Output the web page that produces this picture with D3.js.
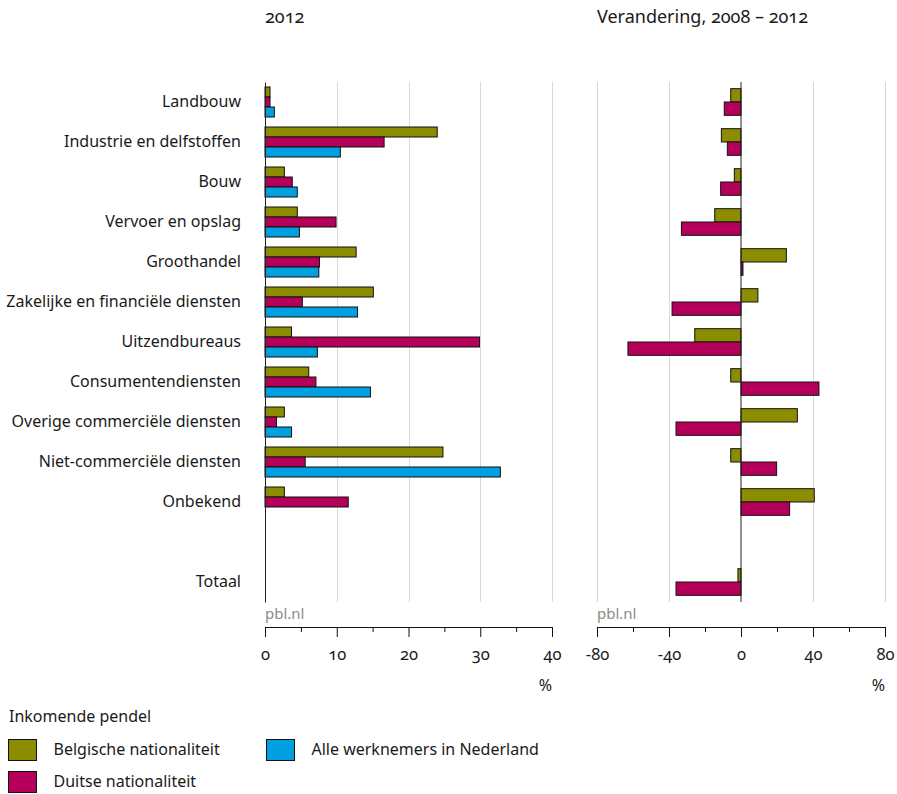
<!DOCTYPE html>
<html>
<head>
<meta charset="utf-8">
<script src="https://cdn.jsdelivr.net/npm/d3@7"></script>
<style>
  html, body { margin: 0; padding: 0; background: #fff; }
  svg { display: block; font-family: "Noto Sans", "Open Sans", sans-serif; }
  .onum { font-variant-numeric: oldstyle-nums; font-feature-settings: "onum" 1; }
</style>
</head>
<body>
<svg id="chart" width="897" height="794"></svg>
<script>
// ---- data ----
const categories = ["Landbouw", "Industrie en delfstoffen", "Bouw", "Vervoer en opslag", "Groothandel",
  "Zakelijke en financiële diensten", "Uitzendbureaus", "Consumentendiensten",
  "Overige commerciële diensten", "Niet-commerciële diensten", "Onbekend", " ", "Totaal"];
const belgisch2012 = [0.7, 24.0, 2.7, 4.5, 12.7, 15.1, 3.7, 6.1, 2.7, 24.8, 2.7, null, null];
const duits2012    = [0.7, 16.6, 3.8, 9.9, 7.6, 5.2, 29.9, 7.1, 1.6, 5.6, 11.6, null, null];
const alle2012     = [1.3, 10.5, 4.5, 4.8, 7.5, 12.9, 7.3, 14.7, 3.7, 32.8, null, null, null];
const belgischVerandering = [-5.7, -10.9, -3.7, -14.6, 25.2, 9.4, -25.7, -5.7, 31.3, -5.7, 40.7, null, -1.7];
const duitsVerandering    = [-9.3, -7.6, -11.3, -33.1, 1.1, -38.3, -62.8, 43.3, -36.1, 19.8, 27.0, null, -36.1];
const seriesNames = ["Belgische nationaliteit", "Duitse nationaliteit", "Alle werknemers in Nederland"];
const seriesColors = ["#8c8c00", "#b4005a", "#009fe0"];
const leftTicks = [0, 10, 20, 30, 40];
const leftMinorTicks = [5, 15, 25, 35];
const rightTicks = [-80, -40, 0, 40, 80];
const rightMinorTicks = [-60, -20, 20, 60];
const titles = ["2012", "Verandering, 2008 – 2012"];
const legendTitle = "Inkomende pendel";
const unitLabel = "%";
const sourceLabel = "pbl.nl";

// ---- layout ----
const svg = d3.select("#chart");
const plotTop = 82, plotBottom = 602, axisY = 627;
const textColor = "#1a1a1a";

const y = d3.scaleBand().domain(categories).range([plotTop, plotBottom]).padding(0);
const bw = y.bandwidth();

const xL = d3.scaleLinear().domain([0, 40]).range([265, 552]);
const xR = d3.scaleLinear().domain([-80, 80]).range([597, 885]);

const subL = d3.scaleBand().domain([0, 1, 2]).range([bw * 0.125, bw * 0.875]);
const subR = d3.scaleBand().domain([0, 1]).range([bw / 6, bw * 5 / 6]);

function gridlines(x, ticks) {
  svg.append("g").selectAll("line").data(ticks).join("line")
    .attr("x1", d => Math.round(x(d)) + 0.5).attr("x2", d => Math.round(x(d)) + 0.5)
    .attr("y1", plotTop).attr("y2", plotBottom)
    .attr("stroke", "#d9d9d9").attr("stroke-width", 1);
}
gridlines(xL, leftTicks.filter(d => d !== 0));
gridlines(xR, rightTicks.filter(d => d !== 0));

function bars(x, sub, seriesList) {
  seriesList.forEach((vals, si) => {
    const data = categories.map((c, i) => ({ c, v: vals[i] })).filter(d => d.v != null);
    svg.append("g").selectAll("rect").data(data).join("rect")
      .attr("x", d => Math.min(x(0), x(d.v)))
      .attr("width", d => Math.abs(x(d.v) - x(0)))
      .attr("y", d => y(d.c) + sub(si))
      .attr("height", sub.bandwidth())
      .attr("fill", seriesColors[si])
      .attr("stroke", "#111").attr("stroke-width", 1);
  });
}
bars(xL, subL, [belgisch2012, duits2012, alle2012]);
bars(xR, subR, [belgischVerandering, duitsVerandering]);

// left category axis
const yAxis = svg.append("g").attr("transform", `translate(${xL(0)},0)`)
  .call(d3.axisLeft(y).tickSize(0).tickPadding(24).tickSizeOuter(0));
yAxis.select(".domain").attr("stroke", "#222");
yAxis.selectAll("text").attr("font-size", 16).attr("fill", textColor)
  .attr("font-family", "Noto Sans, sans-serif");

// right zero line
svg.append("line").attr("x1", xR(0)).attr("x2", xR(0)).attr("y1", plotTop).attr("y2", plotBottom)
  .attr("stroke", "#222").attr("stroke-width", 1);

// bottom axes
function bottomAxis(x, ticks, minor) {
  const g = svg.append("g").attr("transform", `translate(0,${axisY})`);
  g.call(d3.axisBottom(x).tickValues(ticks).tickSize(10).tickSizeOuter(0).tickPadding(11)
    .tickFormat(d => String(d)));
  g.select(".domain").attr("stroke", "#111").attr("d", `M${x.range()[0]},0.5H${x.range()[1]}`);
  g.selectAll(".tick line").attr("stroke", "#111");
  g.selectAll("text").attr("font-size", 16.5).attr("fill", textColor)
    .attr("font-family", "Noto Sans, sans-serif").attr("class", "onum");
  const m = svg.append("g").attr("transform", `translate(0,${axisY})`);
  m.call(d3.axisBottom(x).tickValues(minor).tickSize(5).tickFormat(""));
  m.select(".domain").remove();
  m.selectAll(".tick line").attr("stroke", "#111");
  svg.append("text").attr("x", x.range()[1]).attr("y", 691).attr("text-anchor", "end")
    .attr("font-size", 16).attr("fill", textColor).text(unitLabel);
  svg.append("text").attr("x", x.range()[0]).attr("y", 619)
    .attr("font-size", 15).attr("fill", "#8c8c8c").text(sourceLabel);
}
bottomAxis(xL, leftTicks, leftMinorTicks);
bottomAxis(xR, rightTicks, rightMinorTicks);

// titles
svg.append("text").attr("x", xL(0)).attr("y", 23).attr("font-size", 18).attr("fill", textColor)
  .attr("class", "onum").text(titles[0]);
svg.append("text").attr("x", xR(-80)).attr("y", 23).attr("font-size", 18).attr("fill", textColor)
  .attr("class", "onum").text(titles[1]);

// legend
svg.append("text").attr("x", 9).attr("y", 722).attr("font-size", 16).attr("fill", textColor).text(legendTitle);
const legendItems = [
  { i: 0, x: 8.5, y: 739.5 },
  { i: 1, x: 8.5, y: 771.5 },
  { i: 2, x: 266.5, y: 739.5 }
];
const lg = svg.append("g").selectAll("g").data(legendItems).join("g")
  .attr("transform", d => `translate(${d.x},${d.y})`);
lg.append("rect").attr("width", 28).attr("height", 21)
  .attr("fill", d => seriesColors[d.i]).attr("stroke", "#111").attr("stroke-width", 1);
lg.append("text").attr("x", 45).attr("y", 15.5).attr("font-size", 16).attr("fill", textColor)
  .text(d => seriesNames[d.i]);
</script>
</body>
</html>
